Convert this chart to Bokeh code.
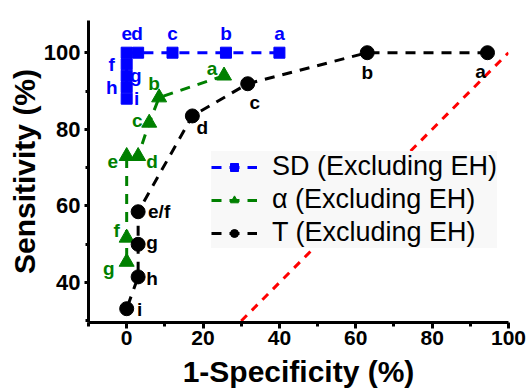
from bokeh.plotting import figure
from bokeh.models import Legend, LegendItem, FixedTicker, Range1d, ColumnDataSource
from bokeh.core.properties import value
from bokeh.embed import file_html
from bokeh.resources import INLINE

# ---- data ----
sd_labels = ["a", "b", "c", "d", "e", "f", "g", "h", "i"]
sd_x = [40, 26, 12, 3, 0, 0, 0, 0, 0]
sd_y = [100, 100, 100, 100, 100, 97, 94, 91, 88]

al_labels = ["a", "b", "c", "d", "e", "f", "g"]
al_x = [25.5, 8.5, 5.9, 3, 0, 0, 0]
al_y = [94, 88.3, 81.7, 73, 73, 51.7, 45.4]

t_labels = ["a", "b", "c", "d", "e/f", "g", "h", "i"]
t_x = [94.5, 63, 31.7, 17.2, 3, 3, 3, 0]
t_y = [100, 100, 91.9, 83.5, 58.5, 50, 41.5, 33.2]

ref_x = [30, 100]
ref_y = [30, 100]

x_ticks = [0, 20, 40, 60, 80, 100]
x_minor = [-10, 10, 30, 50, 70, 90]
y_ticks = [40, 60, 80, 100]
y_minor = [30, 50, 70, 90]

# label offsets (style)
sd_dx = [0, 0, 0, -1, 0, -15, 9, -15, 10]
sd_dy = [-19, -19, -19, -19, -19, 0, 0, 0, 0]
al_dx = [-12, -5, -12, 14, -14, -10, -18]
al_dy = [-7, -14, -2, 5, 5, -7, 7]
t_dx = [-7, 0, 7, 10, 21, 14, 14, 13]
t_dy = [19, 20, 19, 12, 0, -2, 2, 1]

FONT = "Liberation Sans"

p = figure(width=528, height=391, output_backend="svg", toolbar_location=None,
           x_range=Range1d(-10, 100), y_range=Range1d(29.6, 108.4),
           min_border_left=88, min_border_right=20, min_border_top=20, min_border_bottom=69)
p.outline_line_color = None
p.xgrid.visible = False
p.ygrid.visible = False
p.background_fill_color = "white"

# reference diagonal
p.line(ref_x, ref_y, color="red", line_width=3, line_dash="8 7")

blue = "#0000ff"
green = "#008000"

r_sd_l = p.line(sd_x, sd_y, color=blue, line_width=3, line_dash="10 8")
r_sd_m = p.scatter(sd_x, sd_y, marker="square", size=11, color=blue)

r_al_l = p.line(al_x, al_y, color=green, line_width=3, line_dash="10 8")
r_al_m = p.scatter(al_x, al_y, marker="triangle", size=15, color=green)

r_t_l = p.line(t_x, t_y, color="black", line_width=3, line_dash="10 8")
r_t_m = p.scatter(t_x, t_y, marker="circle", size=14, color="black")

def add_labels(xs, ys, texts, dxs, dys, color):
    src = ColumnDataSource(dict(x=xs, y=ys, t=texts, dx=dxs, dy=dys))
    p.text(x="x", y="y", text="t", x_offset="dx", y_offset="dy", source=src,
           text_color=color, text_font=value(FONT), text_font_style="bold",
           text_font_size="19px", text_align="center", text_baseline="middle")

add_labels(sd_x, sd_y, sd_labels, sd_dx, sd_dy, blue)
add_labels(al_x, al_y, al_labels, al_dx, al_dy, green)
add_labels(t_x, t_y, t_labels, t_dx, t_dy, "black")

# axes
for ax in (p.xaxis[0], p.yaxis[0]):
    ax.axis_line_width = 3
    ax.major_tick_line_width = 3
    ax.minor_tick_line_width = 3
    ax.major_tick_in = 0
    ax.minor_tick_in = 0
    ax.major_label_text_font = FONT
    ax.major_label_text_font_style = "bold"
    ax.major_label_text_color = "black"
    ax.axis_label_text_font = FONT
    ax.axis_label_text_font_style = "bold"
    ax.axis_label_text_color = "black"

p.xaxis.major_tick_out = 6
p.xaxis.minor_tick_out = 4
p.yaxis.major_tick_out = 4
p.yaxis.minor_tick_out = 3

p.xaxis.ticker = FixedTicker(ticks=x_ticks, minor_ticks=x_minor)
p.yaxis.ticker = FixedTicker(ticks=y_ticks, minor_ticks=y_minor)
p.xaxis.axis_label = "1-Specificity (%)"
p.yaxis.axis_label = "Sensitivity (%)"
p.xaxis.major_label_text_font_size = "21px"
p.yaxis.major_label_text_font_size = "22px"
p.xaxis.axis_label_text_font_size = "30px"
p.yaxis.axis_label_text_font_size = "30px"
p.xaxis.major_label_standoff = 2
p.yaxis.major_label_standoff = 4
p.xaxis.axis_label_standoff = 7
p.yaxis.axis_label_standoff = 0

legend = Legend(items=[
    LegendItem(label="SD (Excluding EH)", renderers=[r_sd_l, r_sd_m]),
    LegendItem(label="\u03b1 (Excluding EH)", renderers=[r_al_l, r_al_m]),
    LegendItem(label="T (Excluding EH)", renderers=[r_t_l, r_t_m]),
], location=(123, 74))
legend.label_text_font = FONT
legend.label_text_font_size = "27px"
legend.label_text_color = "black"
legend.background_fill_color = "#f8f8f8"
legend.background_fill_alpha = 1
legend.border_line_color = None
legend.glyph_width = 46
legend.glyph_height = 20
legend.label_height = 30
legend.spacing = 2
legend.padding = 6
legend.margin = 0
legend.label_standoff = 15
p.add_layout(legend, "center")

open("out.html", "w").write(file_html(p, INLINE))
